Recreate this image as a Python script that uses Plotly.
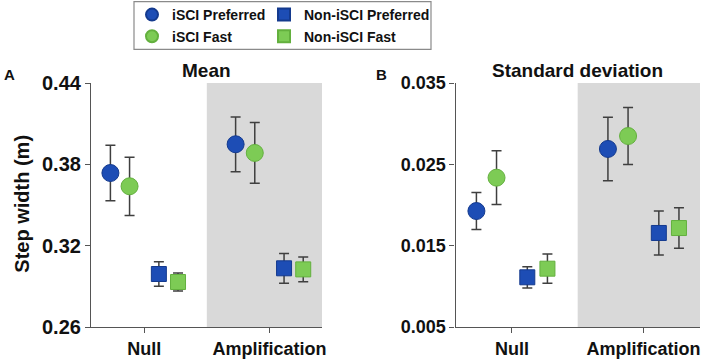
import plotly.graph_objects as go
from plotly.subplots import make_subplots

conditions = ["Null", "Amplification"]
cond_pos = [1, 2]
group_names = ["iSCI Preferred", "iSCI Fast", "Non-iSCI Preferred", "Non-iSCI Fast"]

# Mean step width (m)
mean_isci_pref = [0.3736, 0.3948]
mean_isci_pref_err = [0.0204, 0.0202]
mean_isci_fast = [0.3638, 0.3884]
mean_isci_fast_err = [0.0215, 0.0224]
mean_non_pref = [0.2991, 0.3033]
mean_non_pref_err = [0.0090, 0.0110]
mean_non_fast = [0.2932, 0.3025]
mean_non_fast_err = [0.0066, 0.0091]

# Standard deviation of step width (m)
sd_isci_pref = [0.01926, 0.02689]
sd_isci_pref_err = [0.00228, 0.0039]
sd_isci_fast = [0.02336, 0.02848]
sd_isci_fast_err = [0.0033, 0.0035]
sd_non_pref = [0.01111, 0.01656]
sd_non_pref_err = [0.0013, 0.0027]
sd_non_fast = [0.01217, 0.01717]
sd_non_fast_err = [0.0018, 0.0025]

mean_ticks = [0.26, 0.32, 0.38, 0.44]
sd_ticks = [0.005, 0.015, 0.025, 0.035]

BLUE = "#1d4db5"
BLUE_EDGE = "#143a8e"
GREEN = "#7dcb55"
GREEN_EDGE = "#63b03e"
ERR = "#3f3f3f"
FONT = "Liberation Sans, Arial, sans-serif"

offsets = [-0.27, -0.117, 0.117, 0.27]
styles = [
    dict(symbol="circle", size=17, color=BLUE, line=dict(color=BLUE_EDGE, width=1)),
    dict(symbol="circle", size=17, color=GREEN, line=dict(color=GREEN_EDGE, width=1)),
    dict(symbol="square", size=15, color=BLUE, line=dict(color=BLUE_EDGE, width=1)),
    dict(symbol="square", size=15, color=GREEN, line=dict(color=GREEN_EDGE, width=1)),
]
legend_ids = ["legend", "legend2", "legend3", "legend4"]
# legend item anchor (left x, centre y) in pixels
legend_pos = [(132, 15), (132, 36.7), (264, 15), (264, 36.7)]

W, H = 702, 360
ML, MR, MT, MB = 91, 2, 83, 33
pw = W - ML - MR
ph = H - MT - MB

def px_x(p):
    return (p - ML) / pw

def px_y(p):
    return (H - MB - p) / ph

left_dom = [0, px_x(322)]
right_dom = [px_x(455.5), 1]

fig = make_subplots(rows=1, cols=2)

mean_series = [(mean_isci_pref, mean_isci_pref_err), (mean_isci_fast, mean_isci_fast_err),
               (mean_non_pref, mean_non_pref_err), (mean_non_fast, mean_non_fast_err)]
sd_series = [(sd_isci_pref, sd_isci_pref_err), (sd_isci_fast, sd_isci_fast_err),
             (sd_non_pref, sd_non_pref_err), (sd_non_fast, sd_non_fast_err)]

for col, series in [(1, mean_series), (2, sd_series)]:
    for i, (vals, errs) in enumerate(series):
        fig.add_trace(go.Scatter(
            x=[c + offsets[i] for c in cond_pos], y=vals,
            mode="markers", name=group_names[i],
            marker=styles[i],
            error_y=dict(type="data", array=errs, visible=True, color=ERR, thickness=1.5, width=5),
            showlegend=(col == 1), legend=legend_ids[i],
        ), row=1, col=col)

xr_left = [0.575, 2.42]
xr_right = [0.571, 2.43]

axis_common = dict(showline=True, linecolor="#555555", linewidth=1.2, ticks="outside",
                   ticklen=5, tickcolor="#555555", showgrid=False, zeroline=False,
                   mirror=False)

fig.update_xaxes(**axis_common, tickvals=cond_pos, ticktext=conditions,
                 tickfont=dict(family=FONT, size=18, color="#111111", weight="bold"))
fig.update_xaxes(domain=left_dom, range=xr_left, row=1, col=1)
fig.update_xaxes(domain=right_dom, range=xr_right, row=1, col=2)
fig.update_yaxes(**axis_common)
fig.update_yaxes(range=[mean_ticks[0], mean_ticks[-1]], tickvals=mean_ticks,
                 ticktext=[f"{v:.2f}" for v in mean_ticks],
                 tickfont=dict(family=FONT, size=20, color="#111111", weight="bold"), row=1, col=1)
fig.update_yaxes(range=[sd_ticks[0], sd_ticks[-1]], tickvals=sd_ticks,
                 ticktext=[f"{v:.3f}" for v in sd_ticks],
                 tickfont=dict(family=FONT, size=18, color="#111111", weight="bold"), row=1, col=2)

# grey shading for Amplification condition
fig.add_shape(type="rect", xref="x", yref="y domain", x0=1.5, x1=xr_left[1], y0=0, y1=1,
              fillcolor="#d9d9d9", line_width=0, layer="below")
fig.add_shape(type="rect", xref="x2", yref="y2 domain", x0=1.5, x1=xr_right[1], y0=0, y1=1,
              fillcolor="#d9d9d9", line_width=0, layer="below")

# legend frame
fig.add_shape(type="rect", xref="paper", yref="paper",
              x0=px_x(134), x1=px_x(431), y0=px_y(49.3), y1=px_y(1.7),
              line=dict(color="#8a8a8a", width=1.2), fillcolor="rgba(0,0,0,0)")

legend_common = dict(orientation="h", xref="container", yref="container", xanchor="left",
                     yanchor="middle", bgcolor="rgba(0,0,0,0)", borderwidth=0,
                     itemsizing="constant",
                     font=dict(family=FONT, size=14, color="#111111", weight="bold"),
                     itemclick=False)

legend_layout = {}
for lid, (lx, ly) in zip(legend_ids, legend_pos):
    legend_layout[lid] = dict(**legend_common, x=lx / W, y=1 - ly / H)

fig.update_layout(
    width=W, height=H,
    margin=dict(l=ML, r=MR, t=MT, b=MB, autoexpand=False),
    paper_bgcolor="white", plot_bgcolor="white",
    font=dict(family=FONT, color="#111111"),
    **legend_layout,
)

ann_font = dict(family=FONT, color="#111111", weight="bold")
fig.add_annotation(text="Mean", xref="paper", yref="paper",
                   x=(left_dom[0] + left_dom[1]) / 2, y=px_y(71), showarrow=False,
                   xanchor="center", yanchor="middle", font=dict(**ann_font, size=19))
fig.add_annotation(text="Standard deviation", xref="paper", yref="paper",
                   x=(right_dom[0] + right_dom[1]) / 2, y=px_y(71), showarrow=False,
                   xanchor="center", yanchor="middle", font=dict(**ann_font, size=19))
fig.add_annotation(text="A", xref="paper", yref="paper", x=px_x(9.5), y=px_y(74.5),
                   showarrow=False, xanchor="center", yanchor="middle", font=dict(**ann_font, size=15))
fig.add_annotation(text="B", xref="paper", yref="paper", x=px_x(381), y=px_y(74.5),
                   showarrow=False, xanchor="center", yanchor="middle", font=dict(**ann_font, size=15))
fig.add_annotation(text="Step width (m)", xref="paper", yref="paper", x=px_x(21.7),
                   y=px_y(204), showarrow=False, textangle=-90, xanchor="center",
                   yanchor="middle", font=dict(**ann_font, size=20))

fig.write_html("out.html", config={"displayModeBar": False},
               post_script="document.body.style.margin='0px';")
